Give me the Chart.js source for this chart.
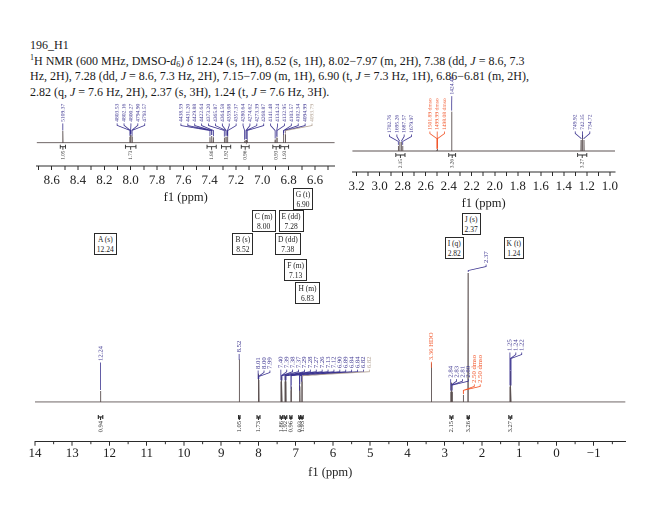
<!DOCTYPE html>
<html><head><meta charset="utf-8">
<script src="https://cdn.jsdelivr.net/npm/chart.js@4.4.1/dist/chart.umd.min.js"></script>
<style>
html,body{margin:0;padding:0;background:#fff;}
body{width:660px;height:507px;position:relative;overflow:hidden;font-family:"Liberation Serif","Times New Roman",serif;color:#1a1a1a;}
.hdr{position:absolute;left:30px;white-space:nowrap;font-size:12px;line-height:14px;}
.hdr sup,.hdr sub{font-size:8px;line-height:0;}
.hdr sup{vertical-align:5px}
.hdr sub{vertical-align:-2px}
.wrap{position:absolute;}
.box{position:absolute;border:1.3px solid #2a2a2a;background:#fff;font-size:7.5px;line-height:9.5px;text-align:center;padding:1px 2px;box-sizing:border-box;height:22px;white-space:nowrap;color:#222}
</style></head><body>
<div class="hdr" style="top:38px">196_H1</div>
<div class="hdr" style="top:53.5px"><sup>1</sup>H NMR (600 MHz, DMSO-<i>d</i><sub>6</sub>) <i>δ</i> 12.24 (s, 1H), 8.52 (s, 1H), 8.02−7.97 (m, 2H), 7.38 (dd, <i>J</i> = 8.6, 7.3</div>
<div class="hdr" style="top:69px">Hz, 2H), 7.28 (dd, <i>J</i> = 8.6, 7.3 Hz, 2H), 7.15−7.09 (m, 1H), 6.90 (t, <i>J</i> = 7.3 Hz, 1H), 6.86−6.81 (m, 2H),</div>
<div class="hdr" style="top:84.5px">2.82 (q, <i>J</i> = 7.6 Hz, 2H), 2.37 (s, 3H), 1.24 (t, <i>J</i> = 7.6 Hz, 3H).</div>

<div class="wrap" style="left:0;top:70px;width:360px;height:140px"><canvas id="c1" width="360" height="140"></canvas></div>
<div class="wrap" style="left:330px;top:70px;width:330px;height:145px"><canvas id="c2" width="330" height="145"></canvas></div>
<div class="wrap" style="left:0;top:240px;width:660px;height:267px"><canvas id="c3" width="660" height="267"></canvas></div>
<div id="boxes"></div>

<script>
// ---------------- DATA ----------------
const peakPpm = [12.24, 8.5156, 8.0059, 8.0036, 8.0005, 7.9915, 7.9893,
  7.3977, 7.3853, 7.3831, 7.3711, 7.2887, 7.2765, 7.2743, 7.2651, 7.2623,
  7.1344, 7.1244, 7.1223, 7.1148, 6.9025, 6.8904, 6.8883,
  6.8393, 6.8372, 6.8250, 6.8230, 3.36,
  2.8379, 2.8254, 2.8126, 2.8000, 2.5032, 2.5000, 2.4968, 2.3741,
  1.2499, 1.2373, 1.2245];
const heightMain = [8.5, 33, 17, 22, 19, 22, 17,
  16, 20, 20, 16, 16, 20, 20, 19, 16,
  9, 12, 12, 9, 8, 13, 12,
  15, 19, 19, 15, 30,
  8, 15, 15, 8, 3, 5.5, 3, 100,
  12, 24, 12];
const heightZoom = [8, 30, 15, 20, 18, 20, 15,
  14, 17, 17, 14, 13, 15, 15, 15, 13,
  5, 7, 7, 5, 8, 13.5, 12,
  18, 22, 22, 18, 30,
  13, 23, 23, 13, 3, 5, 3, 100,
  28, 41, 28];

// peak labels (Hz in the expansions, ppm in the full spectrum)
const hzLabelsA = ["5109.37"];
const hzLabelsB = ["4803.53","4802.16","4800.27","4794.90","4793.57"];
const hzLabelsC = ["4438.59","4431.20","4429.88","4422.64","4373.20","4365.87","4364.58","4359.08","4357.37",
  "4280.64","4274.62","4273.39","4268.87","4141.48","4134.24","4132.95","4103.57","4102.34","4094.99","4093.79"];
const hzLabelsQ = ["1702.76","1695.26","1687.57","1679.97"];
const hzLabelsDmso = ["1501.89 dmso","1499.99 dmso","1498.08 dmso"];
const hzLabelsS = ["1424.48"];
const hzLabelsT = ["749.92","742.35","734.72"];

const ppmLabelsA = ["12.24"];
const ppmLabelsB = ["8.52"];
const ppmLabelsC = ["8.01","8.00","7.99"];
const ppmLabelsAr = ["7.40","7.39","7.38","7.37","7.29","7.28","7.27","7.26","7.13","7.12","6.90","6.89","6.84","6.84","6.82","6.82"];
const ppmLabelsHdo = ["3.36 HDO"];
const ppmLabelsQ = ["2.84","2.83","2.81","2.80"];
const ppmLabelsDmso = ["2.50 dmso","2.50 dmso"];
const ppmLabelsS = ["2.37"];
const ppmLabelsT = ["1.25","1.24","1.22"];

// integrals
const intFrom  = [12.30, 8.535, 8.04, 7.42, 7.31, 7.16, 6.92, 6.86, 2.86, 2.40, 1.28];
const intTo    = [12.18, 8.495, 7.96, 7.35, 7.24, 7.10, 6.87, 6.80, 2.78, 2.34, 1.20];
const intValue = ["0.94","1.05","1.73","1.86","1.92","0.96","0.93","1.93","2.15","3.26","3.27"];

// multiplet boxes
const boxLetter = ["A","B","C","D","E","F","G","H","I","J","K"];
const boxMult   = ["s","s","m","dd","dd","m","t","m","q","s","t"];
const boxShift  = ["12.24","8.52","8.00","7.38","7.28","7.13","6.90","6.83","2.82","2.37","1.24"];

const SPEC_MHZ = 600;

// ---------------- LAYOUT / STYLE ----------------
const BLUE = "#3c3490", RED = "#f2572b", GRAY = "#b5a597", AX = "#2b2b2b", TRACE = "#5b5050";
const boxRowTop = [233, 233, 210, 233, 210, 259, 188, 282, 237, 213, 237];

function nearestIdx(ppm) {
  let best = 0, bd = 1e9;
  peakPpm.forEach((p, i) => { const d = Math.abs(p - ppm); if (d < bd) { bd = d; best = i; } });
  return best;
}

function buildTrace(heights, lo, hi, hw) {
  const idx = peakPpm.map((p, i) => i).filter(i => peakPpm[i] < hi && peakPpm[i] > lo)
    .sort((a, b) => peakPpm[b] - peakPpm[a]);
  const pts = [{x: hi, y: 0}];
  idx.forEach(i => {
    pts.push({x: peakPpm[i] + hw, y: 0}, {x: peakPpm[i], y: heights[i]}, {x: peakPpm[i] - hw, y: 0});
  });
  pts.push({x: lo, y: 0});
  return pts;
}

function layoutX(items, gap, mode) {
  items.sort((a, b) => a.tx - b.tx);
  if (mode === 'push') {
    let prev = -1e9;
    items.forEach(it => { it.lx = Math.max(it.tx, prev + gap); prev = it.lx; });
    return;
  }
  const st = [];
  items.forEach(it => {
    st.push({items: [it], sum: it.tx, start: it.tx});
    while (st.length > 1) {
      const b = st[st.length - 1], a = st[st.length - 2];
      const aEnd = a.start + (a.items.length - 1) * gap;
      if (aEnd + gap > b.start) {
        const m = {items: a.items.concat(b.items), sum: a.sum + b.sum};
        m.start = m.sum / m.items.length - (m.items.length - 1) * gap / 2;
        st.splice(-2, 2, m);
      } else break;
    }
  });
  st.forEach(c => c.items.forEach((it, k) => { it.lx = c.start + k * gap; }));
}

const nmrPlugin = {
  id: 'nmr',
  afterDraw(chart, args, o) {
    const ctx = chart.ctx, xs = chart.scales.x, ys = chart.scales.y;
    const base = ys.getPixelForValue(0);
    const heights = o.heights;
    ctx.save();
    // minor ticks
    if (o.minorStep) {
      ctx.strokeStyle = AX; ctx.lineWidth = 1;
      const yA = chart.chartArea.bottom;
      const start = Math.ceil(xs.min / o.minorStep) * o.minorStep;
      for (let v = start; v <= xs.max + 1e-9; v += o.minorStep) {
        if (Math.abs(v - Math.round(v / o.majorStep) * o.majorStep) < 1e-6) continue;
        const x = xs.getPixelForValue(v);
        ctx.beginPath(); ctx.moveTo(x, yA); ctx.lineTo(x, yA + o.minorLen); ctx.stroke();
      }
    }
    // integrals
    ctx.strokeStyle = AX; ctx.fillStyle = AX; ctx.lineWidth = o.intLw;
    ctx.font = o.intFont + "px 'Liberation Serif'";
    intFrom.forEach((a, i) => {
      const b = intTo[i];
      if (b < xs.min || a > xs.max) return;
      const x1 = xs.getPixelForValue(a), x2 = xs.getPixelForValue(b);
      const y = base + o.intDy;
      const xm = (x1 + x2) / 2;
      ctx.beginPath();
      ctx.moveTo(x1, y - 2); ctx.lineTo(x1, y + 2);
      ctx.moveTo(x2, y - 2); ctx.lineTo(x2, y + 2);
      ctx.moveTo(x1, y); ctx.lineTo(x2, y);
      ctx.moveTo(xm, y); ctx.lineTo(xm, y + 3);
      ctx.stroke();
      const w = ctx.measureText(intValue[i]).width;
      ctx.save();
      ctx.translate(xm, y + 4 + w);
      ctx.rotate(-Math.PI / 2);
      ctx.textAlign = 'left'; ctx.textBaseline = 'middle';
      ctx.fillText(intValue[i], 0, 0);
      ctx.restore();
    });
    // peak labels
    const items = [];
    o.groups.forEach(g => {
      const gi = [];
      g.texts.forEach((t, k) => {
        const ppm = parseFloat(t) / (o.hz ? SPEC_MHZ : 1);
        const h = heights[nearestIdx(ppm)];
        const it = {text: t, tx: xs.getPixelForValue(ppm), ptop: ys.getPixelForValue(h),
          color: (g.grayLast && k === g.texts.length - 1) ? GRAY : g.color};
        gi.push(it); items.push(it);
      });
      const top = Math.min(...gi.map(it => it.ptop));
      gi.forEach(it => { it.yb = top - g.lift; });
    });
    layoutX(items, o.gap, o.mode);
    ctx.font = o.labelFont + "px 'Liberation Serif'";
    ctx.lineWidth = 0.8;
    items.forEach(it => {
      ctx.strokeStyle = it.color; ctx.fillStyle = it.color;
      const y1 = it.yb + 1.5, y2 = it.yb + 3.5, y3 = y2 + o.drop;
      ctx.beginPath();
      ctx.moveTo(it.lx, y1); ctx.lineTo(it.lx, y2); ctx.lineTo(it.tx, y3);
      if (it.ptop - 1 > y3) ctx.lineTo(it.tx, it.ptop - 1);
      ctx.stroke();
      ctx.save();
      ctx.translate(it.lx, it.yb);
      ctx.rotate(-Math.PI / 2);
      ctx.textAlign = 'left'; ctx.textBaseline = 'middle';
      ctx.fillText(it.text, 0, 0);
      ctx.restore();
    });
    ctx.restore();
  }
};

function makeChart(id, c) {
  return new Chart(document.getElementById(id), {
    type: 'line',
    data: {datasets: [{data: buildTrace(c.heights, c.xmin, c.xmax, c.hw), borderColor: TRACE,
      borderWidth: c.lw, pointRadius: 0, tension: 0, fill: false}]},
    options: {
      responsive: false, animation: false, devicePixelRatio: 2,
      layout: {padding: {left: c.padL, right: c.padR, top: 0, bottom: 0}},
      plugins: {legend: {display: false}, tooltip: {enabled: false},
        nmr: {heights: c.heights, groups: c.groups, hz: c.hz, gap: c.gap, mode: c.mode, drop: c.drop,
          labelFont: c.labelFont, intFont: c.intFont, intDy: c.intDy, intLw: c.intLw,
          minorStep: c.minorStep, majorStep: c.step, minorLen: c.minorLen}},
      scales: {
        x: {type: 'linear', reverse: true, min: c.xmin, max: c.xmax,
          afterFit: s => { s.height = c.axisH; s.paddingLeft = 0; s.paddingRight = 0; },
          border: {display: true, color: AX, width: 1},
          grid: {display: true, drawOnChartArea: false, drawTicks: true, tickLength: c.tickLen, tickColor: AX, tickWidth: 1},
          ticks: {stepSize: c.step, includeBounds: false, autoSkip: false, maxRotation: 0, minRotation: 0,
            padding: c.tickPad, color: '#1e1e1e', font: {family: 'Liberation Serif', size: c.tickFont},
            callback: c.fmt},
          title: {display: true, text: 'f1 (ppm)', color: '#1e1e1e', font: {family: 'Liberation Serif', size: 12.5},
            padding: {top: 0, bottom: c.titlePad}}},
        y: {display: false, min: c.ymin, max: c.ymax}
      }
    },
    plugins: [nmrPlugin]
  });
}

const fmtTenth = v => (Math.round(v * 10) % 2 === 0 ? v.toFixed(1) : '');
const fmtInt = v => (v < 0 ? '\u2212' + Math.abs(v) : String(v));

// expansion 1 (aromatic)
makeChart('c1', {heights: heightZoom, xmin: 6.45, xmax: 8.714, hw: 0.0015, lw: 0.9,
  padL: 36.7, padR: 360 - 334.7, ymin: -59.3, ymax: 185, axisH: 44,
  step: 0.1, tickLen: 4, tickPad: 3, tickFont: 13, fmt: fmtTenth, titlePad: 5,
  hz: true, gap: 6.9, mode: 'center', drop: 5, labelFont: 5.6, intFont: 5.2, intDy: 4, intLw: 0.9,
  groups: [{texts: hzLabelsA, lift: 9, color: BLUE}, {texts: hzLabelsB, lift: 13, color: BLUE},
    {texts: hzLabelsC, lift: 12, color: BLUE, grayLast: true}]});

// expansion 2 (aliphatic)
makeChart('c2', {heights: heightZoom, xmin: 0.955, xmax: 3.238, hw: 0.0015, lw: 0.9,
  padL: 22.3, padR: 45, ymin: -53.4, ymax: 206, axisH: 43,
  step: 0.1, tickLen: 4, tickPad: 3, tickFont: 13, fmt: fmtTenth, titlePad: 4,
  hz: true, gap: 7.3, mode: 'center', drop: 5, labelFont: 5.6, intFont: 5.2, intDy: 4, intLw: 0.9,
  groups: [{texts: hzLabelsQ, lift: 9, color: BLUE}, {texts: hzLabelsDmso, lift: 19, color: RED},
    {texts: hzLabelsS, lift: 17, color: BLUE}, {texts: hzLabelsT, lift: 5, color: BLUE}]});

// full spectrum
const main = makeChart('c3', {heights: heightMain, xmin: -1.85, xmax: 14, hw: 0.006, lw: 0.9,
  padL: 35, padR: 34.6, ymin: -30.8, ymax: 125.6, axisH: 65.3,
  step: 1, tickLen: 4, tickPad: 0, tickFont: 13, fmt: fmtInt, titlePad: 27,
  minorStep: 0.5, minorLen: 2.5,
  hz: false, gap: 5.9, mode: 'push', drop: 4, labelFont: 6.7, intFont: 6.5, intDy: 15, intLw: 1.1,
  groups: [{texts: ppmLabelsA, lift: 30, color: BLUE}, {texts: ppmLabelsB, lift: 7, color: BLUE},
    {texts: ppmLabelsC, lift: 8.5, color: BLUE}, {texts: ppmLabelsAr, lift: 8, color: BLUE, grayLast: true},
    {texts: ppmLabelsHdo, lift: 3, color: RED}, {texts: ppmLabelsQ, lift: 5, color: BLUE},
    {texts: ppmLabelsDmso, lift: 12, color: RED}, {texts: ppmLabelsS, lift: 10, color: BLUE},
    {texts: ppmLabelsT, lift: 20, color: BLUE}]});

// multiplet boxes, anchored on the full-spectrum x scale
const boxHost = document.getElementById('boxes');
boxLetter.forEach((L, i) => {
  const d = document.createElement('div');
  d.className = 'box';
  d.innerHTML = L + ' (' + boxMult[i] + ')<br>' + boxShift[i];
  const x = main.scales.x.getPixelForValue(parseFloat(boxShift[i]));
  d.style.left = (x - 6.7) + 'px';
  d.style.top = boxRowTop[i] + 'px';
  boxHost.appendChild(d);
});
</script>
</body></html>
